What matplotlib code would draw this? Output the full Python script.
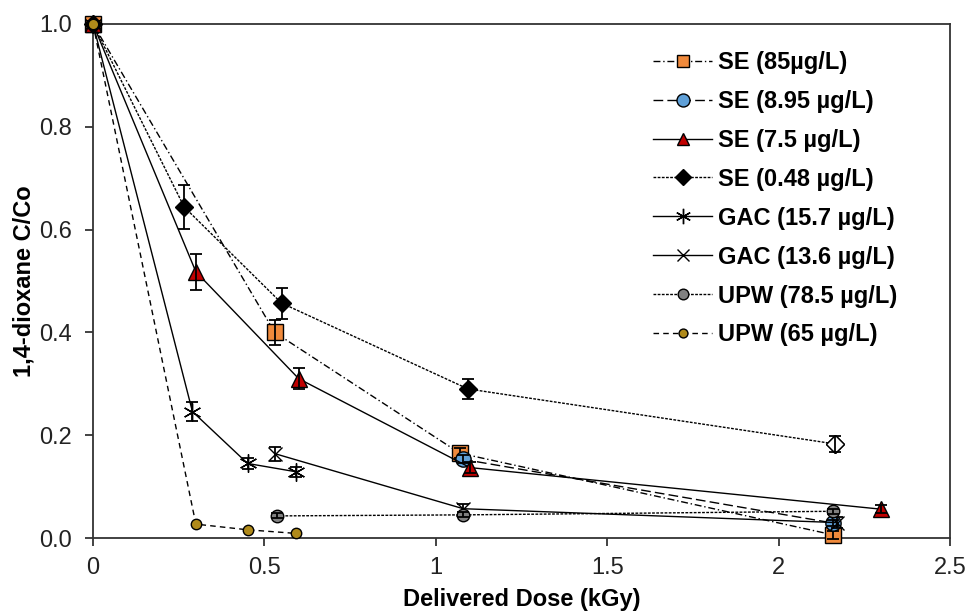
import numpy as np
from matplotlib import pyplot as plt

plt.rcParams['font.family'] = ['Liberation Sans', 'DejaVu Sans']

# ---- data ----
# SE (85 ug/L)
x_se85 = [0, 0.53, 1.07, 2.16]
y_se85 = [1.0, 0.40, 0.165, 0.006]
e_se85 = [0, 0.025, 0.010, 0.008]
# SE (8.95 ug/L)
x_se895 = [1.08, 2.16]
y_se895 = [0.153, 0.029]
e_se895 = [0.008, 0.006]
# SE (7.5 ug/L)
x_se75 = [0, 0.30, 0.60, 1.10, 2.30]
y_se75 = [1.0, 0.518, 0.310, 0.137, 0.056]
e_se75 = [0, 0.035, 0.020, 0.010, 0.008]
# SE (0.48 ug/L)
x_se048 = [0, 0.266, 0.55, 1.094, 2.165]
y_se048 = [1.0, 0.644, 0.457, 0.290, 0.183]
e_se048 = [0, 0.042, 0.030, 0.019, 0.015]
# GAC (15.7 ug/L)
x_gac157 = [0, 0.29, 0.451, 0.591]
y_gac157 = [1.0, 0.246, 0.145, 0.129]
e_gac157 = [0, 0.018, 0.010, 0.010]
# GAC (13.6 ug/L)
x_gac136 = [0.531, 1.08, 2.17]
y_gac136 = [0.164, 0.057, 0.030]
e_gac136 = [0.014, 0.010, 0.010]
# UPW (78.5 ug/L)
x_upw785 = [0.537, 1.08, 2.158]
y_upw785 = [0.043, 0.045, 0.052]
e_upw785 = [0.005, 0.005, 0.005]
# UPW (65 ug/L)
x_upw65 = [0, 0.30, 0.451, 0.591]
y_upw65 = [1.0, 0.027, 0.016, 0.009]

fig = plt.figure(figsize=(9.66, 6.12), dpi=100)
ax = fig.add_axes([0.0963, 0.1209, 0.8871, 0.8399])

def series(x, y, err, label, ls, marker, fc, ms, z):
    ax.plot(x, y, linestyle=ls, color='black', lw=1.0, marker=marker, markersize=ms,
            markerfacecolor=fc, markeredgecolor='black', markeredgewidth=1.0,
            label=label, clip_on=False, zorder=z)
    if err is not None:
        ax.errorbar(x, y, yerr=err, fmt='none', ecolor='black', elinewidth=1.3,
                    capsize=4, capthick=1.3, clip_on=False, zorder=z + 0.5)

series(x_se85, y_se85, e_se85, 'SE (85µg/L)', (0, (5, 2, 1, 2)), 's', '#F08A3C', 11, 3)
series(x_se895, y_se895, e_se895, 'SE (8.95 µg/L)', (0, (7, 3)), 'o', '#5FA0D8', 11, 4)
series(x_se75, y_se75, e_se75, 'SE (7.5 µg/L)', '-', '^', '#C00000', 11, 5)
series(x_se048, y_se048, e_se048, 'SE (0.48 µg/L)', (0, (2, 1)), 'D', 'black', 9, 6)
# last point of SE (0.48) is drawn open
ax.plot(x_se048[-1:], y_se048[-1:], 'D', markersize=9, markerfacecolor='white',
        markeredgecolor='black', zorder=6.2)
series(x_gac157, y_gac157, e_gac157, 'GAC (15.7 µg/L)', '-', (6, 2, 0), 'black', 13, 7)
series(x_gac136, y_gac136, e_gac136, 'GAC (13.6 µg/L)', '-', 'x', 'black', 10, 7)
series(x_upw785, y_upw785, e_upw785, 'UPW (78.5 µg/L)', (0, (2, 1)), 'o', '#808080', 9, 8)
series(x_upw65, y_upw65, None, 'UPW (65 µg/L)', (0, (4, 3)), 'o', '#B08A1A', 7.5, 9)

ax.set_xlim(0, 2.5)
ax.set_ylim(0, 1.0)
ax.set_xticks([0, 0.5, 1, 1.5, 2, 2.5])
ax.set_xticklabels(['0', '0.5', '1', '1.5', '2', '2.5'])
ax.set_yticks([0, 0.2, 0.4, 0.6, 0.8, 1.0])
ax.set_yticklabels(['0.0', '0.2', '0.4', '0.6', '0.8', '1.0'])
ax.tick_params(direction='out', length=6, width=1.2, labelsize=17, colors='#222222')
ax.tick_params(axis='y', pad=9)
ax.tick_params(axis='x', pad=8)
for s in ax.spines.values():
    s.set_linewidth(1.3)
    s.set_color('#333333')

ax.set_xlabel('Delivered Dose (kGy)', fontsize=17, fontweight='bold', labelpad=6)
ax.set_ylabel('1,4-dioxane C/Co', fontsize=17, fontweight='bold', labelpad=3)

ax.legend(loc='upper left', bbox_to_anchor=(0.6425, 0.966), frameon=False,
          prop={'size': 17, 'weight': 'bold'}, handlelength=2.5, handletextpad=0.25,
          labelspacing=0.675, markerscale=0.85, borderaxespad=0)

plt.savefig('out.png', dpi=100)
